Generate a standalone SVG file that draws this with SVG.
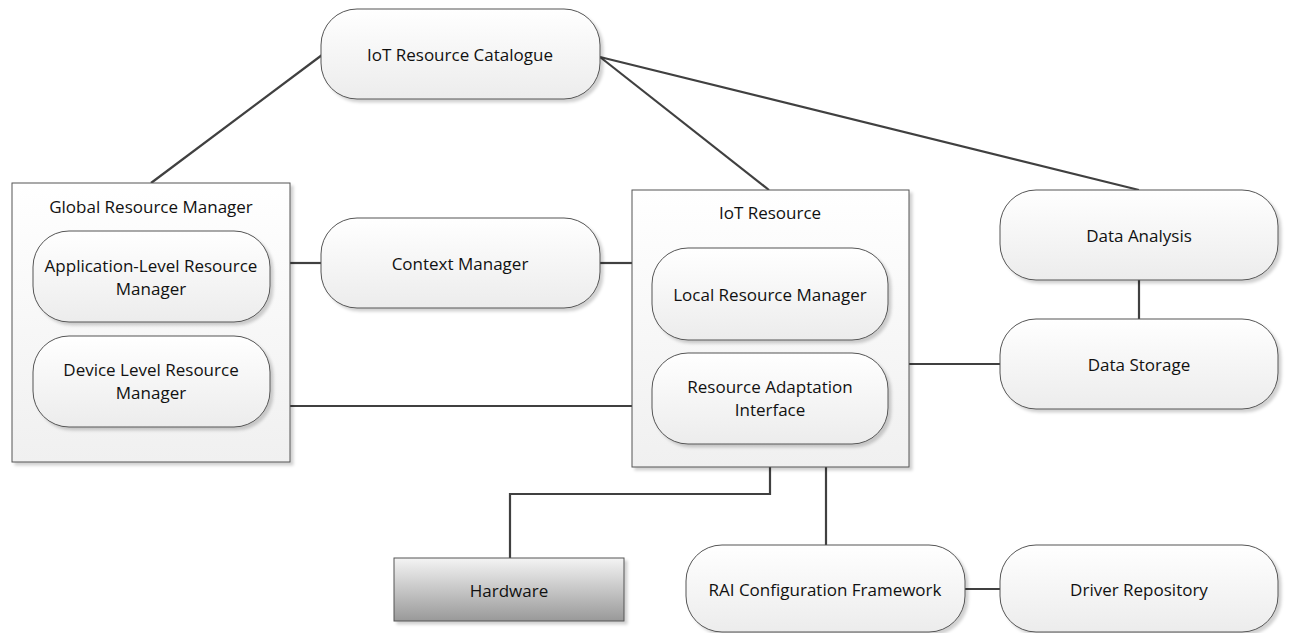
<svg xmlns="http://www.w3.org/2000/svg" width="1292" height="633" viewBox="0 0 1292 633">
<style>
.node{fill:url(#g);stroke:#555;stroke-width:1;filter:url(#sh)}
.cont{fill:url(#gc);stroke:#555;stroke-width:1;filter:url(#sh)}
.hw{fill:url(#gh);stroke:#555;stroke-width:1;filter:url(#sh)}
.t{font-family:"Open Sans","Liberation Sans",sans-serif;font-size:17px;fill:#111;text-anchor:middle;dominant-baseline:central}
.c{fill:none;stroke:#404040;stroke-width:2.2}
</style>
<defs>
<linearGradient id="g" x1="0" y1="0" x2="0" y2="1"><stop offset="0" stop-color="#ffffff"/><stop offset="1" stop-color="#ececec"/></linearGradient>
<linearGradient id="gc" x1="0" y1="0" x2="0" y2="1"><stop offset="0" stop-color="#ffffff"/><stop offset="1" stop-color="#f0f0f0"/></linearGradient>
<linearGradient id="gh" x1="0" y1="0" x2="0" y2="1"><stop offset="0" stop-color="#f4f4f4"/><stop offset="1" stop-color="#999"/></linearGradient>
<filter id="sh" x="-5%" y="-5%" width="115%" height="115%"><feDropShadow dx="3" dy="3" stdDeviation="1.5" flood-color="#000" flood-opacity="0.18"/></filter>
</defs>
<g id="connectors">
<path class="c" d="M322 55 L151 183"/>
<path class="c" d="M600 57 L769 190"/>
<path class="c" d="M600 57 L1139 190"/>
<path class="c" d="M290 263 H321"/>
<path class="c" d="M600 263 H632"/>
<path class="c" d="M290 406 H632"/>
<path class="c" d="M909 364 H1000"/>
<path class="c" d="M1139 280 V319"/>
<path class="c" d="M770 467 V494 H510 V558"/>
<path class="c" d="M826 467 V545"/>
<path class="c" d="M965 589 H1000"/>
</g>
<g id="catalogue"><rect class="node" x="321" y="9" width="279" height="90" rx="36"/><text class="t" x="460" y="54">IoT Resource Catalogue</text></g>
<g id="grm"><rect class="cont" x="12" y="183" width="278" height="279"/><text class="t" x="151" y="206">Global Resource Manager</text>
<g id="app-level"><rect class="node" x="33" y="231" width="237" height="91" rx="36"/><text class="t" x="151" y="265">Application-Level Resource</text><text class="t" x="151" y="288">Manager</text></g>
<g id="device-level"><rect class="node" x="33" y="336" width="237" height="91" rx="36"/><text class="t" x="151" y="369">Device Level Resource</text><text class="t" x="151" y="392">Manager</text></g>
</g>
<g id="context"><rect class="node" x="321" y="218" width="279" height="90" rx="36"/><text class="t" x="460" y="263">Context Manager</text></g>
<g id="iot-resource"><rect class="cont" x="632" y="190" width="277" height="277"/><text class="t" x="770" y="212">IoT Resource</text>
<g id="local"><rect class="node" x="652" y="248" width="236" height="92" rx="36"/><text class="t" x="770" y="294">Local Resource Manager</text></g>
<g id="rai"><rect class="node" x="652" y="353" width="236" height="91" rx="36"/><text class="t" x="770" y="386">Resource Adaptation</text><text class="t" x="770" y="409">Interface</text></g>
</g>
<g id="data-analysis"><rect class="node" x="1000" y="190" width="278" height="90" rx="36"/><text class="t" x="1139" y="235">Data Analysis</text></g>
<g id="data-storage"><rect class="node" x="1000" y="319" width="278" height="90" rx="36"/><text class="t" x="1139" y="364">Data Storage</text></g>
<g id="hardware"><rect class="hw" x="394" y="558" width="230" height="63"/><text class="t" x="509" y="590">Hardware</text></g>
<g id="rai-config"><rect class="node" x="686" y="545" width="279" height="87" rx="36"/><text class="t" x="825" y="589">RAI Configuration Framework</text></g>
<g id="driver-repo"><rect class="node" x="1000" y="545" width="278" height="87" rx="36"/><text class="t" x="1139" y="589">Driver Repository</text></g>
</svg>
